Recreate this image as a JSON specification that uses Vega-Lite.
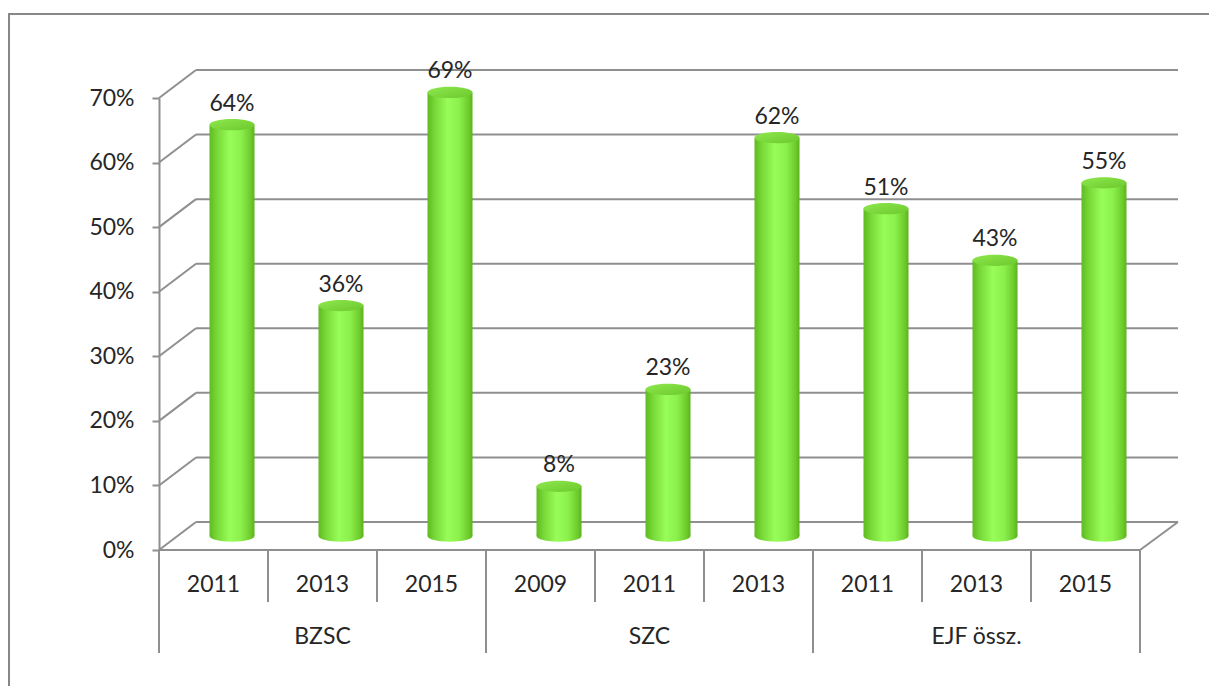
{
  "$schema": "https://vega.github.io/schema/vega-lite/v6.json",
  "width": 1210,
  "height": 680,
  "autosize": {"type": "none"},
  "padding": {"left": 9, "top": 14, "right": 0, "bottom": 0},
  "background": "white",
  "config": {
    "view": {"stroke": "#878787", "strokeWidth": 2},
    "text": {"font": "Lato", "fontSize": 23, "color": "#262626"}
  },
  "datasets": {
    "bars": [
      {"id": "BZSC 2011", "group": "BZSC", "year": "2011", "value": 0.64},
      {"id": "BZSC 2013", "group": "BZSC", "year": "2013", "value": 0.36},
      {"id": "BZSC 2015", "group": "BZSC", "year": "2015", "value": 0.69},
      {"id": "SZC 2009", "group": "SZC", "year": "2009", "value": 0.08},
      {"id": "SZC 2011", "group": "SZC", "year": "2011", "value": 0.23},
      {"id": "SZC 2013", "group": "SZC", "year": "2013", "value": 0.62},
      {"id": "EJF össz. 2011", "group": "EJF össz.", "year": "2011", "value": 0.51},
      {"id": "EJF össz. 2013", "group": "EJF össz.", "year": "2013", "value": 0.43},
      {"id": "EJF össz. 2015", "group": "EJF össz.", "year": "2015", "value": 0.55}
    ],
    "grid": [
      {"v": 0}, {"v": 0.1}, {"v": 0.2}, {"v": 0.3}, {"v": 0.4}, {"v": 0.5}, {"v": 0.6}, {"v": 0.7}
    ]
  },
  "resolve": {"scale": {"x": "independent"}, "axis": {"x": "independent"}},
  "layer": [
    {
      "layer": [
        {
          "data": {"name": "grid"},
          "mark": {"type": "rule", "color": "#8f8f8f", "strokeWidth": 2, "xOffset": 37, "x2Offset": 38, "yOffset": -28},
          "encoding": {
            "x": {"datum": 0, "type": "quantitative", "scale": {"domain": [0, 9], "range": [150, 1131], "nice": false, "zero": false}, "axis": null},
            "x2": {"datum": 9},
            "y": {"field": "v", "type": "quantitative", "scale": {"domain": [0, 0.7], "range": [536, 84], "nice": false, "zero": true},
              "axis": {"values": [0, 0.1, 0.2, 0.3, 0.4, 0.5, 0.6, 0.7], "format": ".0%", "title": null, "grid": false, "offset": -150,
                "domainColor": "#8f8f8f", "domainWidth": 2, "tickColor": "#8f8f8f", "tickWidth": 2, "tickSize": 7,
                "labelFont": "Lato", "labelFontSize": 23, "labelColor": "#262626", "labelPadding": 18}}
          }
        },
        {
          "data": {"name": "grid"},
          "mark": {"type": "rule", "color": "#8f8f8f", "strokeWidth": 2, "x2Offset": 37, "y2Offset": -28},
          "encoding": {
            "x": {"datum": 0, "type": "quantitative"},
            "x2": {"datum": 0},
            "y": {"field": "v", "type": "quantitative"},
            "y2": {"field": "v"}
          }
        },
        {
          "data": {"values": [{}]},
          "mark": {"type": "rule", "color": "#8f8f8f", "strokeWidth": 2},
          "encoding": {
            "x": {"datum": 0, "type": "quantitative"},
            "x2": {"datum": 9},
            "y": {"datum": 0, "type": "quantitative"}
          }
        },
        {
          "data": {"values": [{}]},
          "mark": {"type": "rule", "color": "#8f8f8f", "strokeWidth": 2, "x2Offset": 38, "y2Offset": -28},
          "encoding": {
            "x": {"datum": 9, "type": "quantitative"},
            "x2": {"datum": 9},
            "y": {"datum": 0, "type": "quantitative"},
            "y2": {"datum": 0}
          }
        },
        {
          "data": {"values": [{}]},
          "mark": {"type": "rule", "color": "#8f8f8f", "strokeWidth": 2, "y2Offset": 103},
          "encoding": {
            "x": {"datum": 9, "type": "quantitative"},
            "y": {"datum": 0, "type": "quantitative"},
            "y2": {"datum": 0}
          }
        }
      ]
    },
    {
      "data": {"name": "bars"},
      "transform": [
        {"window": [{"op": "row_number", "as": "k"}], "groupby": ["group"]}
      ],
      "encoding": {
        "x": {"field": "id", "type": "nominal", "sort": null, "axis": null,
          "scale": {"type": "band", "domain": ["BZSC 2011", "BZSC 2013", "BZSC 2015", "SZC 2009", "SZC 2011", "SZC 2013", "EJF össz. 2011", "EJF össz. 2013", "EJF össz. 2015"],
            "range": [150, 1131], "paddingInner": 0, "paddingOuter": 0}}
      },
      "layer": [
        {
          "transform": [{"filter": "datum.k > 1"}],
          "mark": {"type": "rule", "color": "#8f8f8f", "strokeWidth": 2, "y2Offset": 52},
          "encoding": {
            "x": {"field": "id", "type": "nominal", "bandPosition": 0},
            "y": {"datum": 0, "type": "quantitative"},
            "y2": {"datum": 0}
          }
        },
        {
          "transform": [{"filter": "datum.k == 1"}],
          "mark": {"type": "rule", "color": "#8f8f8f", "strokeWidth": 2, "y2Offset": 103},
          "encoding": {
            "x": {"field": "id", "type": "nominal", "bandPosition": 0},
            "y": {"datum": 0, "type": "quantitative"},
            "y2": {"datum": 0}
          }
        },
        {
          "mark": {"type": "text", "baseline": "middle", "align": "center", "dy": 35},
          "encoding": {
            "y": {"datum": 0, "type": "quantitative"},
            "text": {"field": "year"}
          }
        },
        {
          "transform": [{"filter": "datum.k == 2"}],
          "mark": {"type": "text", "baseline": "middle", "align": "center", "dy": 87},
          "encoding": {
            "y": {"datum": 0, "type": "quantitative"},
            "text": {"field": "group"}
          }
        },
        {
          "mark": {"type": "point", "filled": true, "opacity": 1, "strokeWidth": 0, "size": 2025, "xOffset": 18.5, "yOffset": -14,
            "shape": "M-1,0A1,0.25,0,1,0,1,0A1,0.25,0,1,0,-1,0Z",
            "fill": {"gradient": "linear", "x1": 0, "y1": 0, "x2": 1, "y2": 0, "stops": [
              {"offset": 0, "color": "#5fba1f"}, {"offset": 0.15, "color": "#76d636"}, {"offset": 0.45, "color": "#98fd58"},
              {"offset": 0.7, "color": "#8cf04c"}, {"offset": 0.92, "color": "#6cca2b"}, {"offset": 1, "color": "#5cb21c"}]}},
          "encoding": {
            "y": {"datum": 0, "type": "quantitative"}
          }
        },
        {
          "mark": {"type": "bar", "width": 45, "xOffset": 18.5, "yOffset": -12, "y2Offset": -14,
            "fill": {"gradient": "linear", "x1": 0, "y1": 0, "x2": 1, "y2": 0, "stops": [
              {"offset": 0, "color": "#5fba1f"}, {"offset": 0.15, "color": "#76d636"}, {"offset": 0.45, "color": "#98fd58"},
              {"offset": 0.7, "color": "#8cf04c"}, {"offset": 0.92, "color": "#6cca2b"}, {"offset": 1, "color": "#5cb21c"}]}},
          "encoding": {
            "y": {"field": "value", "type": "quantitative"},
            "y2": {"datum": 0}
          }
        },
        {
          "mark": {"type": "point", "filled": true, "opacity": 1, "strokeWidth": 0, "size": 2025, "xOffset": 18.5, "yOffset": -12,
            "shape": "M-1,0A1,0.25,0,1,0,1,0A1,0.25,0,1,0,-1,0Z",
            "fill": {"gradient": "linear", "x1": 0, "y1": 0, "x2": 1, "y2": 1, "stops": [
              {"offset": 0, "color": "#8ee84f"}, {"offset": 1, "color": "#6cc82c"}]}},
          "encoding": {
            "y": {"field": "value", "type": "quantitative"}
          }
        },
        {
          "mark": {"type": "text", "baseline": "middle", "align": "center", "xOffset": 18.5, "yOffset": -12, "dy": -21},
          "encoding": {
            "y": {"field": "value", "type": "quantitative"},
            "text": {"field": "value", "type": "quantitative", "format": ".0%"}
          }
        }
      ]
    }
  ]
}
